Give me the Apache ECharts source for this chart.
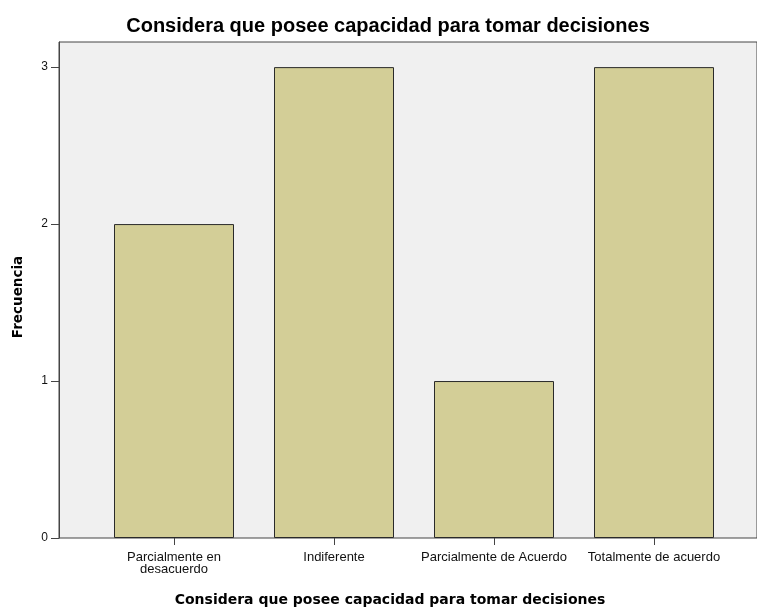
<!DOCTYPE html>
<html>
<head>
<meta charset="utf-8">
<script src="https://cdn.jsdelivr.net/npm/echarts@6/dist/echarts.min.js"></script>
<style>
  html, body { margin: 0; padding: 0; background: #fff; }
  #chart { width: 757px; height: 608px; }
</style>
</head>
<body>
<div id="chart"></div>
<script>
const chartTitle = 'Considera que posee capacidad para tomar decisiones';
const categories = ['Parcialmente en\ndesacuerdo', 'Indiferente', 'Parcialmente de Acuerdo', 'Totalmente de acuerdo'];
const frecuencias = [2, 3, 1, 3];
const yTicks = [0, 1, 2, 3];

const myChart = echarts.init(document.getElementById('chart'));

let option = {
  animation: false,
  title: [
    {
      text: chartTitle,
      left: 383,
      top: 11,
      textAlign: 'center',
      textStyle: { fontFamily: 'Liberation Sans', fontWeight: 'bold', fontSize: 20, color: '#000' },
    },
    {
      text: chartTitle,
      left: 385,
      top: 588,
      textAlign: 'center',
      textStyle: { fontFamily: 'DejaVu Sans', fontWeight: 'bold', fontSize: 14, color: '#000' },
    },
  ],
  grid: [
    // fondo gris del area de trazado
    {
      left: 59, right: -5, top: 42, bottom: 70,
      show: true,
      backgroundColor: '#F0F0F0',
      borderColor: '#444',
      borderWidth: 1,
    },
    // area de las barras
    { left: 94, right: 23, top: 42, bottom: 70 },
  ],
  xAxis: [
    { gridIndex: 0, type: 'value', show: false },
    {
      gridIndex: 1,
      type: 'category',
      data: categories,
      axisLine: { show: false },
      axisTick: { show: true, alignWithLabel: true, length: 7, lineStyle: { color: '#444' } },
      axisLabel: {
        interval: 0,
        margin: 13,
        fontFamily: 'Liberation Sans',
        fontSize: 13,
        lineHeight: 12,
        color: '#111',
      },
    },
  ],
  yAxis: [
    { gridIndex: 0, type: 'value', show: false },
    {
      gridIndex: 1,
      type: 'value',
      min: 0,
      max: 3.16,
      offset: 35,
      name: 'Frecuencia',
      nameLocation: 'middle',
      nameGap: 34,
      nameTextStyle: {
        fontFamily: 'DejaVu Sans', fontWeight: 'bold', fontSize: 13.5, color: '#000',
        padding: [0, 14, 0, 0],
      },
      splitLine: { show: false },
      axisLine: { show: true, lineStyle: { color: '#444' } },
      axisTick: { show: true, length: 8, customValues: yTicks, lineStyle: { color: '#444' } },
      axisLabel: {
        margin: 11,
        fontFamily: 'Liberation Sans',
        fontSize: 12,
        color: '#111',
        customValues: yTicks,
      },
    },
  ],
  series: [
    {
      type: 'bar',
      xAxisIndex: 1,
      yAxisIndex: 1,
      data: frecuencias,
      barWidth: 120,
      itemStyle: { color: '#D3CE97', borderColor: '#2a2a2a', borderWidth: 1 },
    },
  ],
};

myChart.setOption(option);
</script>
</body>
</html>
